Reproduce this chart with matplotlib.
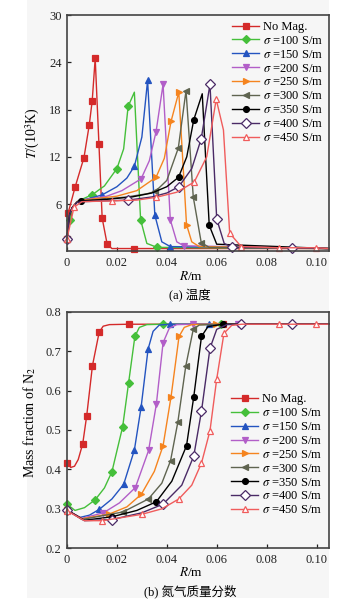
import matplotlib
matplotlib.use("Agg")
import matplotlib.pyplot as plt
from matplotlib.patches import Rectangle

plt.rcParams['font.family'] = ['Liberation Serif', 'Noto Sans CJK SC', 'DejaVu Sans']
plt.rcParams['mathtext.fontset'] = 'stix'

labels = ['No Mag.', r'$\sigma$ =100 S/m', r'$\sigma$ =150 S/m', r'$\sigma$ =200 S/m',
          r'$\sigma$ =250 S/m', r'$\sigma$ =300 S/m', r'$\sigma$ =350 S/m',
          r'$\sigma$ =400 S/m', r'$\sigma$ =450 S/m']
colors = ['#d42a2a', '#45bf3a', '#2454c0', '#b25ec8', '#f5841f', '#5f6450',
          '#000000', '#4a2a66', '#f05c5c']
markers = ['s', 'D', '^', 'v', '>', '<', 'o', 'D', '^']
open_marker = [False] * 7 + [True, True]
msizes = [4.0, 3.7, 4.4, 4.4, 4.4, 4.4, 4.2, 4.8, 5.0]

# ---- (a) temperature, T / 10^3 K ----
T_r = [
    [0, 0.0005, 0.0032, 0.0068, 0.0089, 0.0101, 0.0113, 0.0128, 0.0141, 0.0161, 0.018, 0.027, 0.105],
    [0, 0.0012, 0.002, 0.004, 0.006, 0.0102, 0.015, 0.020, 0.0227, 0.0245, 0.027, 0.0295, 0.032, 0.0361, 0.105],
    [0, 0.001, 0.002, 0.004, 0.006, 0.010, 0.014, 0.020, 0.024, 0.027, 0.030, 0.0323, 0.0352, 0.038, 0.0414, 0.105],
    [0, 0.001, 0.002, 0.004, 0.006, 0.010, 0.016, 0.022, 0.0297, 0.033, 0.0357, 0.0385, 0.0414, 0.044, 0.0468, 0.105],
    [0, 0.001, 0.002, 0.004, 0.006, 0.012, 0.020, 0.028, 0.0357, 0.039, 0.0417, 0.0448, 0.0479, 0.050, 0.053, 0.105],
    [0, 0.001, 0.002, 0.004, 0.006, 0.014, 0.024, 0.032, 0.0354, 0.040, 0.0446, 0.0477, 0.0506, 0.0538, 0.057, 0.105],
    [0, 0.001, 0.002, 0.004, 0.0055, 0.016, 0.026, 0.034, 0.040, 0.0447, 0.048, 0.0508, 0.0542, 0.057, 0.060, 0.105],
    [0, 0.001, 0.002, 0.004, 0.006, 0.015, 0.0246, 0.034, 0.040, 0.0448, 0.050, 0.0538, 0.0573, 0.060, 0.063, 0.0663, 0.0901, 0.105],
    [0, 0.0028, 0.006, 0.018, 0.028, 0.0357, 0.044, 0.051, 0.056, 0.0598, 0.0627, 0.0652, 0.0698, 0.085, 0.0998, 0.105],
]
T_v = [
    [1.6, 4.9, 8.1, 11.9, 16.0, 19.1, 24.5, 13.6, 4.2, 0.9, 0.35, 0.35, 0.35],
    [1.6, 4.0, 5.5, 6.3, 6.6, 7.2, 8.3, 10.5, 13.0, 18.4, 20.2, 4.0, 1.0, 0.5, 0.35],
    [1.6, 4.6, 5.5, 6.3, 6.5, 6.8, 7.15, 8.2, 9.3, 10.8, 14.5, 21.7, 4.6, 1.2, 0.6, 0.35],
    [1.6, 4.6, 5.5, 6.3, 6.5, 6.7, 7.0, 7.7, 9.2, 11.5, 15.2, 21.2, 4.0, 1.2, 0.7, 0.35],
    [1.6, 4.6, 5.5, 6.3, 6.5, 6.7, 7.0, 7.7, 9.4, 11.8, 16.5, 20.2, 3.4, 1.2, 0.6, 0.35],
    [1.6, 4.6, 5.5, 6.3, 6.4, 6.6, 6.9, 7.3, 7.6, 9.0, 13.1, 20.4, 6.9, 1.1, 0.5, 0.35],
    [1.6, 4.6, 5.5, 6.2, 6.4, 6.6, 6.9, 7.4, 8.2, 9.4, 12.0, 16.7, 20.0, 3.3, 0.9, 0.35],
    [1.6, 4.6, 5.5, 6.2, 6.3, 6.4, 6.5, 6.9, 7.4, 8.2, 10.5, 14.3, 21.2, 4.1, 1.0, 0.5, 0.45, 0.35],
    [1.6, 5.6, 6.3, 6.4, 6.5, 6.85, 7.5, 8.8, 12.0, 19.3, 15.4, 2.3, 0.6, 0.45, 0.45, 0.35],
]
T_mark = [
    [0, 1, 2, 3, 4, 5, 6, 7, 8, 9, 11],
    [0, 1, 5, 7, 9, 11, 13],
    [0, 6, 9, 11, 12, 14],
    [0, 8, 10, 11, 12, 14],
    [0, 8, 10, 11, 12],
    [0, 8, 10, 11, 12, 13],
    [0, 4, 9, 11, 13],
    [0, 6, 9, 11, 12, 13, 15, 16],
    [0, 1, 3, 5, 7, 9, 11, 12, 13, 14],
]

# ---- (b) N2 mass fraction ----
N_r = [
    [0, 0.0015, 0.003, 0.0045, 0.0063, 0.0079, 0.0102, 0.0129, 0.0145, 0.017, 0.0247, 0.0625, 0.105],
    [0, 0.0032, 0.007, 0.0113, 0.015, 0.018, 0.0223, 0.0247, 0.0272, 0.029, 0.032, 0.0385, 0.0616, 0.105],
    [0, 0.005, 0.009, 0.013, 0.018, 0.0227, 0.027, 0.0297, 0.0325, 0.0345, 0.037, 0.0414, 0.0569, 0.105],
    [0, 0.006, 0.0146, 0.021, 0.0274, 0.0327, 0.0358, 0.0385, 0.041, 0.044, 0.0506, 0.0685, 0.105],
    [0, 0.006, 0.017, 0.024, 0.0298, 0.035, 0.0385, 0.0417, 0.0449, 0.047, 0.050, 0.0596, 0.105],
    [0, 0.006, 0.0224, 0.0326, 0.038, 0.0415, 0.0444, 0.0476, 0.0506, 0.053, 0.0625, 0.105],
    [0, 0.007, 0.0181, 0.028, 0.0358, 0.042, 0.0479, 0.0508, 0.0539, 0.0565, 0.0625, 0.105],
    [0, 0.007, 0.018, 0.030, 0.0385, 0.046, 0.0508, 0.0539, 0.0573, 0.060, 0.064, 0.0699, 0.0901, 0.105],
    [0, 0.007, 0.0142, 0.0299, 0.038, 0.0448, 0.050, 0.0539, 0.0573, 0.060, 0.0629, 0.066, 0.070, 0.085, 0.0999, 0.105],
]
N_v = [
    [0.416, 0.405, 0.408, 0.425, 0.465, 0.536, 0.663, 0.748, 0.763, 0.767, 0.768, 0.768, 0.768],
    [0.312, 0.296, 0.303, 0.323, 0.353, 0.394, 0.508, 0.620, 0.737, 0.760, 0.767, 0.768, 0.768, 0.768],
    [0.297, 0.278, 0.284, 0.299, 0.325, 0.362, 0.449, 0.558, 0.705, 0.750, 0.766, 0.768, 0.768, 0.768],
    [0.297, 0.276, 0.290, 0.315, 0.354, 0.448, 0.565, 0.721, 0.758, 0.767, 0.768, 0.768, 0.768],
    [0.297, 0.275, 0.287, 0.305, 0.337, 0.395, 0.460, 0.584, 0.737, 0.760, 0.767, 0.768, 0.768],
    [0.297, 0.273, 0.292, 0.325, 0.365, 0.422, 0.519, 0.662, 0.755, 0.766, 0.768, 0.768],
    [0.297, 0.271, 0.280, 0.296, 0.318, 0.370, 0.460, 0.584, 0.737, 0.762, 0.768, 0.768],
    [0.297, 0.270, 0.273, 0.290, 0.312, 0.360, 0.434, 0.548, 0.707, 0.755, 0.767, 0.768, 0.768, 0.768],
    [0.295, 0.270, 0.270, 0.286, 0.300, 0.325, 0.360, 0.416, 0.498, 0.629, 0.745, 0.765, 0.768, 0.768, 0.768, 0.768],
]
N_mark = [
    [0, 4, 5, 6, 7, 10, 11],
    [0, 3, 5, 6, 7, 8, 11, 12],
    [0, 3, 5, 6, 7, 8, 11, 12],
    [0, 2, 4, 5, 6, 7, 10, 11],
    [0, 2, 4, 6, 7, 8, 11],
    [0, 2, 3, 5, 6, 7, 8],
    [0, 2, 4, 6, 7, 8, 10],
    [0, 2, 4, 6, 7, 8, 11, 12],
    [0, 2, 3, 5, 7, 8, 9, 10, 13, 14],
]

x_ticks = [0, 0.02, 0.04, 0.06, 0.08, 0.10]
x_ticklabels = ['0', '0.02', '0.04', '0.06', '0.08', '0.10']
T_ticks = [6, 12, 18, 24, 30]
T_ticklabels = ['6', '12', '18', '24', '30']
N_ticks = [0.2, 0.3, 0.4, 0.5, 0.6, 0.7, 0.8]
N_ticklabels = ['0.2', '0.3', '0.4', '0.5', '0.6', '0.7', '0.8']

W, H = 354, 609
fig = plt.figure(figsize=(W / 100, H / 100), dpi=100)
fig.patch.set_facecolor('white')
fig.patches.append(Rectangle((27 / W, 11 / H), (329 - 27) / W, 598 / H,
                             transform=fig.transFigure, facecolor='#f6f6f6',
                             edgecolor='none', zorder=-10))

ax1 = fig.add_axes([67 / W, 1 - 251.3 / H, 262 / W, 236.3 / H])
ax2 = fig.add_axes([67 / W, 1 - 548.3 / H, 262 / W, 236.7 / H])


def draw(ax, rs, vs, marks):
    for i in range(len(rs)):
        mfc = 'white' if open_marker[i] else colors[i]
        ax.plot(rs[i], vs[i], color=colors[i], lw=1.0, marker=markers[i],
                markevery=marks[i], ms=msizes[i], mfc=mfc, mec=colors[i],
                mew=0.9, label=labels[i], clip_on=False)


draw(ax1, T_r, T_v, T_mark)
draw(ax2, N_r, N_v, N_mark)

for ax in (ax1, ax2):
    ax.set_facecolor('none')
    ax.set_xlim(0, 0.105)
    ax.set_xticks(x_ticks)
    ax.set_xticklabels(x_ticklabels)
    ax.tick_params(direction='in', length=3, width=0.9, labelsize=9, pad=4,
                   colors='#222222')
    for s in ax.spines.values():
        s.set_linewidth(1.2)
        s.set_color('#444444')
    ax.set_xlabel('$R$/m', fontsize=9.5)

ax1.set_ylim(0, 30)
ax1.set_yticks(T_ticks)
ax1.set_yticklabels(T_ticklabels)
ax1.set_ylabel('$T$/(10$^3$K)', fontsize=10)
ax1.yaxis.set_label_coords(-0.095, 0.5)
ax1.xaxis.set_label_coords(0.473, -0.079)

ax2.set_ylim(0.2, 0.8)
ax2.set_yticks(N_ticks)
ax2.set_yticklabels(N_ticklabels)
ax2.set_ylabel('Mass fraction of N$_2$', fontsize=10)
ax2.yaxis.set_label_coords(-0.11, 0.53)
ax2.xaxis.set_label_coords(0.473, -0.075)

leg_kw = dict(loc='upper left', frameon=False, fontsize=9, borderaxespad=0,
              borderpad=0, handlelength=2.2, handletextpad=0.3, labelspacing=0.15)
ax1.legend(bbox_to_anchor=(0.629, 0.975), **leg_kw)
ax2.legend(bbox_to_anchor=(0.625, 0.655), **leg_kw)

fig.text(190 / W, 1 - 296 / H, '(a) 温度', ha='center', va='center', fontsize=9)
fig.text(190 / W, 1 - 591 / H, '(b) 氮气质量分数', ha='center', va='center', fontsize=9)

fig.savefig('out.png', dpi=100, facecolor=fig.get_facecolor())
